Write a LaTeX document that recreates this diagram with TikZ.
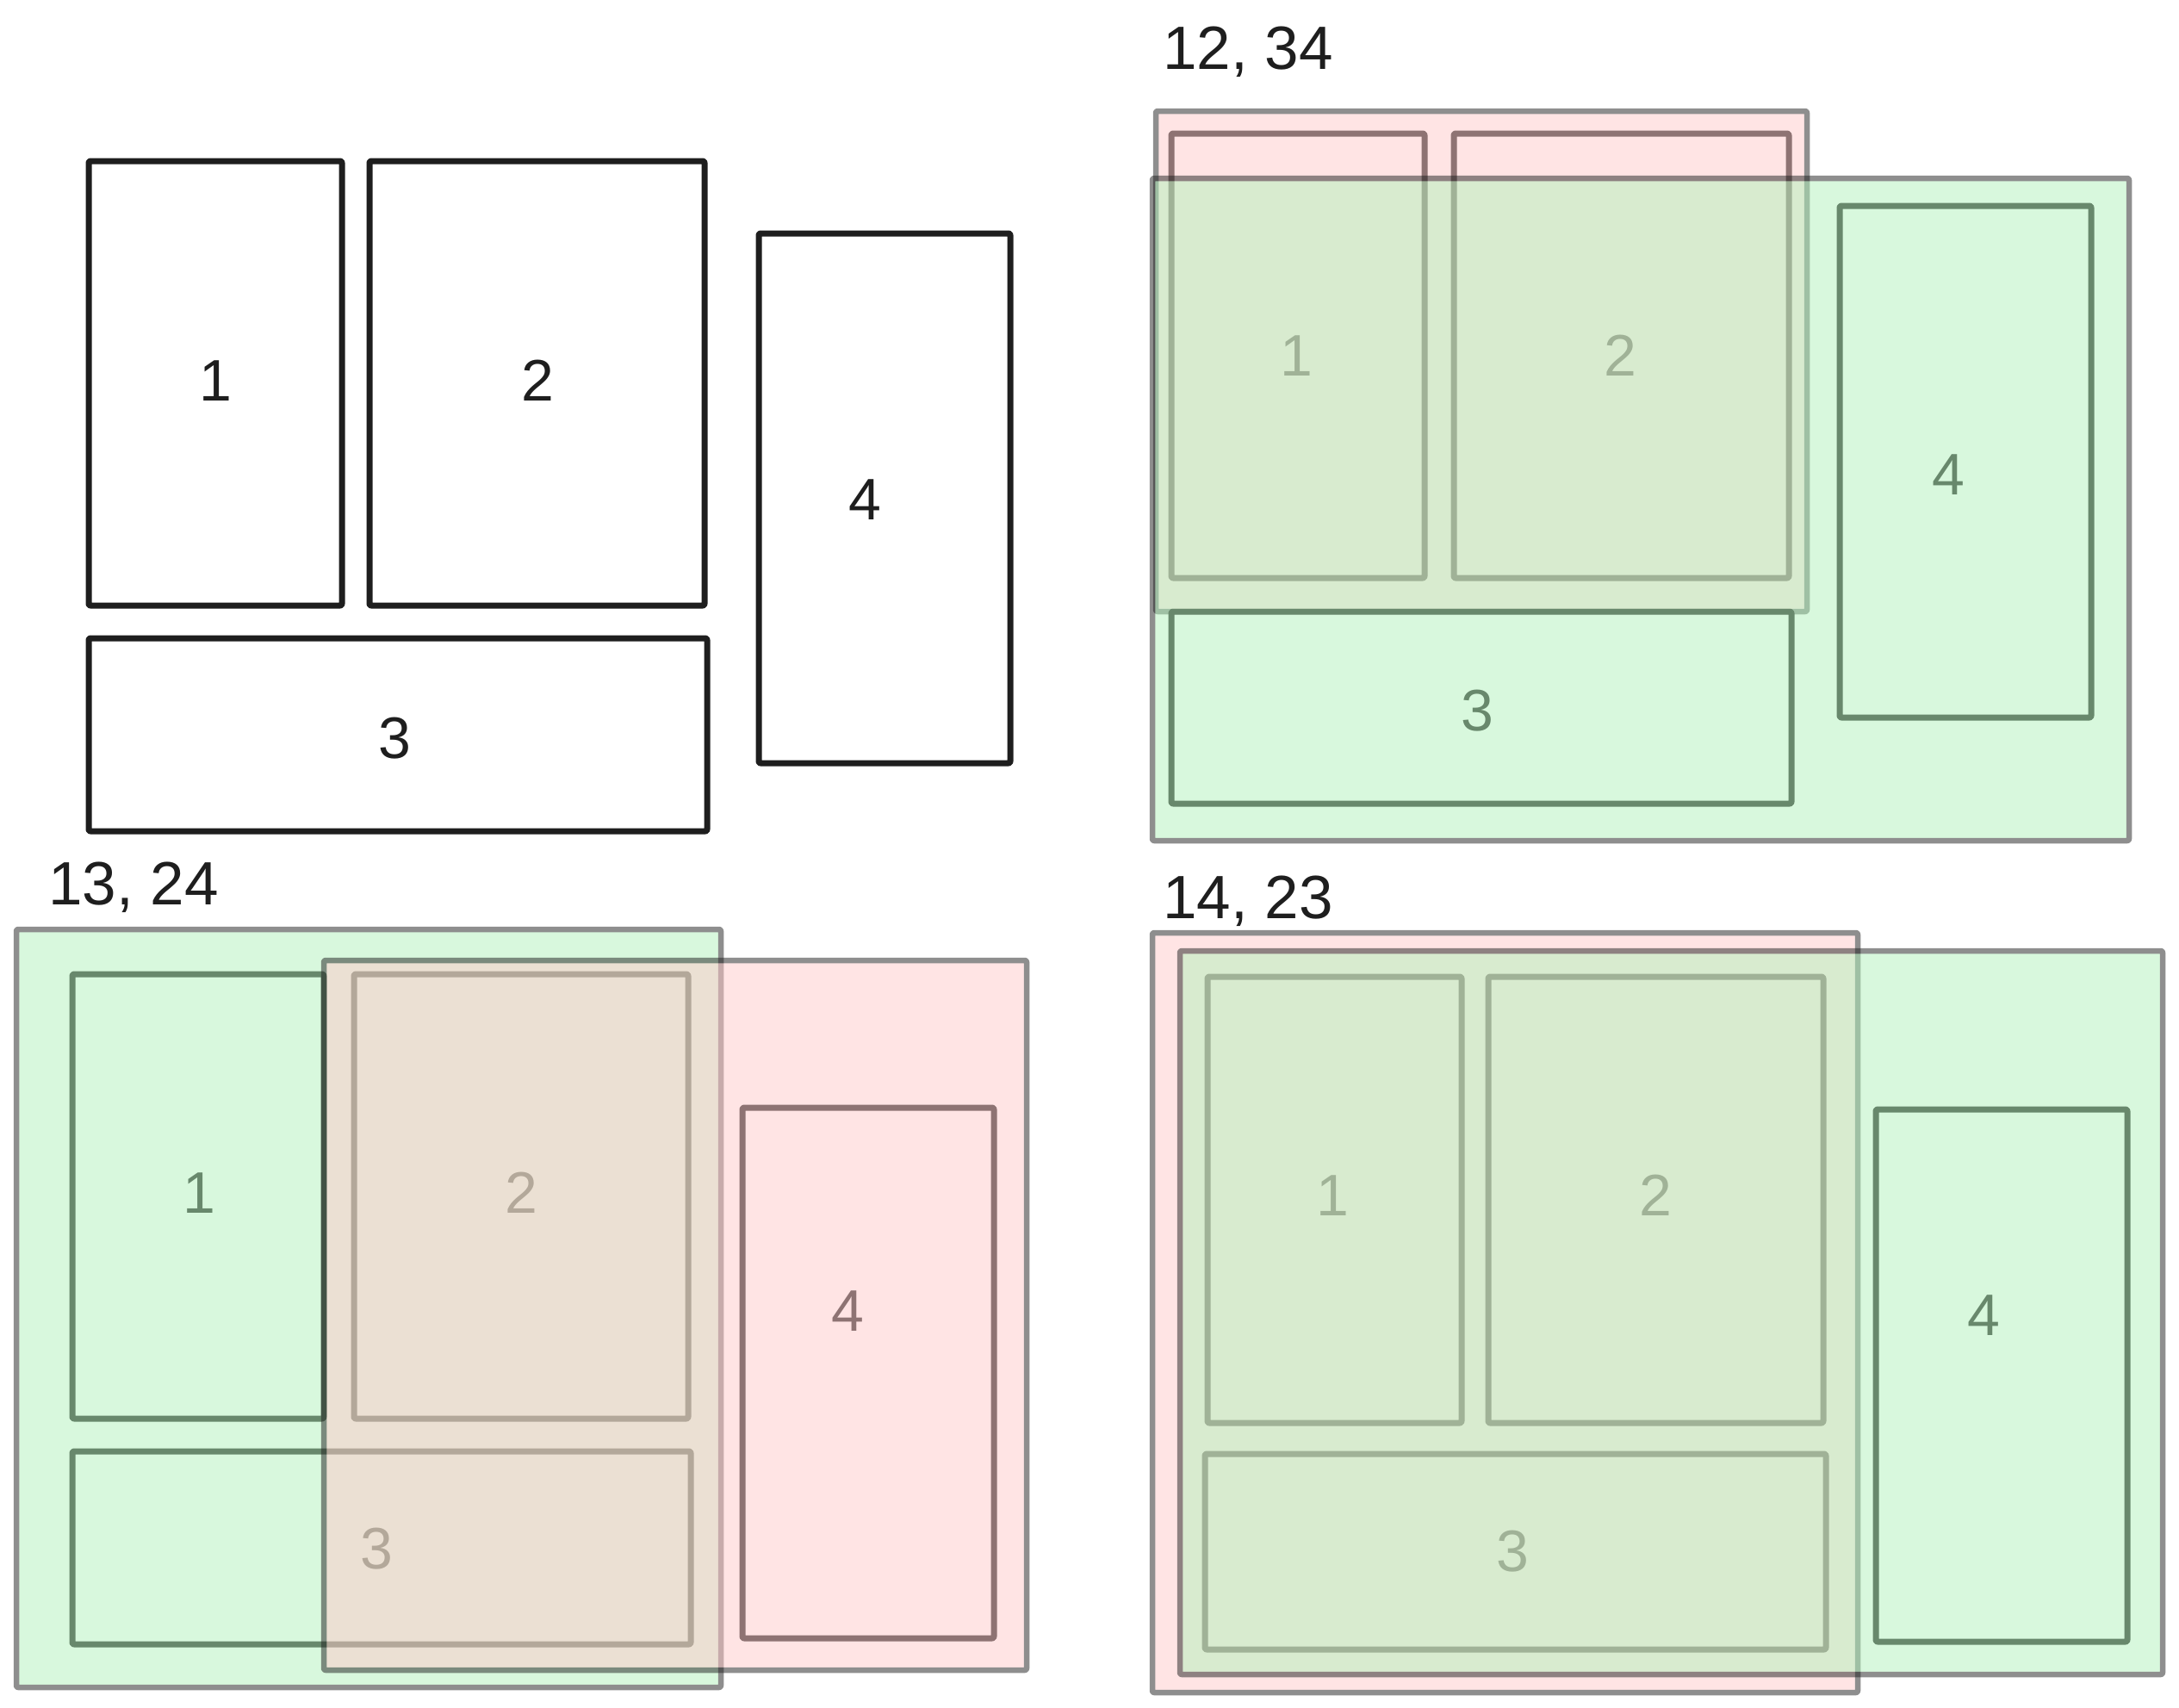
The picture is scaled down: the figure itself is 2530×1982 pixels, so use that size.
\documentclass[tikz,border=0pt]{standalone}
\usepackage{fontspec}
\setmainfont{Liberation Sans}
\usetikzlibrary{fit}
\definecolor{ink}{HTML}{1E1E1E}
\definecolor{redbg}{HTML}{FFC9C9}
\definecolor{greenbg}{HTML}{B2F2BB}
\tikzset{
  nbox/.style={draw=ink, line width=7pt, rounded corners=2pt, line join=round, inner sep=0pt, fit={#1}},
  lbl/.style={text=ink, font=\fontsize{68}{80}\selectfont, inner sep=0pt},
  ttl/.style={text=ink, font=\fontsize{71}{84}\selectfont, inner sep=0pt, anchor=west},
  grp/.style={line width=6.5pt, rounded corners=2pt, line join=round, inner sep=0pt, fit={#1}},
  redgrp/.style={grp={#1}, draw=ink, fill=redbg},
  greengrp/.style={grp={#1}, draw=ink, fill=greenbg},
}
\begin{document}
\begin{tikzpicture}[x=1pt,y=-1pt]
\useasboundingbox (0,0) rectangle (2530,1982);

% ---------- top-left: the four boxes ----------
\node[nbox={(103,187) (397,703)}] (a1) {};
\node[nbox={(429,187) (818,703)}] (a2) {};
\node[nbox={(103,741) (821,965)}] (a3) {};
\node[nbox={(881,271) (1173,886)}] (a4) {};
\node[lbl] (a1t) at (250,442) {1};
\node[lbl] (a2t) at (624,442) {2};
\node[lbl] (a3t) at (458,857) {3};
\node[lbl] (a4t) at (1004,580) {4};

% ---------- top-right: 12, 34 ----------
\node[ttl] (bt) at (1350,60) {12, 34};
\node[nbox={(1360,155) (1654,671)}] (b1) {};
\node[nbox={(1688,155) (2077,671)}] (b2) {};
\node[nbox={(1360,710) (2080,933)}] (b3) {};
\node[nbox={(2136,239) (2428,833)}] (b4) {};
\node[lbl] (b1t) at (1505,413) {1};
\node[lbl] (b2t) at (1881,413) {2};
\node[lbl] (b3t) at (1715,825) {3};
\node[lbl] (b4t) at (2262,551) {4};
\begin{scope}[transparency group, opacity=0.5]
\node[redgrp={(1342,129) (2098,710)}] (b12) {};
\end{scope}
\begin{scope}[transparency group, opacity=0.5]
\node[greengrp={(1338,207) (2472,976)}] (b34) {};
\end{scope}

% ---------- bottom-left: 13, 24 ----------
\node[ttl] (ct) at (56,1030) {13, 24};
\node[nbox={(84,1131) (376,1647)}] (c1) {};
\node[nbox={(411,1131) (799,1647)}] (c2) {};
\node[nbox={(84,1685) (802,1909)}] (c3) {};
\node[nbox={(862,1286) (1154,1902)}] (c4) {};
\node[lbl] (c1t) at (231,1385) {1};
\node[lbl] (c2t) at (605,1385) {2};
\node[lbl] (c3t) at (437,1798) {3};
\node[lbl] (c4t) at (984,1522) {4};
\begin{scope}[transparency group, opacity=0.5]
\node[greengrp={(19,1079) (837,1959)}] (c13) {};
\end{scope}
\begin{scope}[transparency group, opacity=0.5]
\node[redgrp={(376,1115) (1192,1939)}] (c24) {};
\end{scope}

% ---------- bottom-right: 14, 23 ----------
\node[ttl] (dt) at (1350,1046) {14, 23};
\node[nbox={(1402,1134) (1697,1652)}] (d1) {};
\node[nbox={(1728,1134) (2117,1652)}] (d2) {};
\node[nbox={(1399,1688) (2120,1915)}] (d3) {};
\node[nbox={(2178,1288) (2470,1906)}] (d4) {};
\node[lbl] (d1t) at (1547,1388) {1};
\node[lbl] (d2t) at (1922,1388) {2};
\node[lbl] (d3t) at (1756,1801) {3};
\node[lbl] (d4t) at (2303,1527) {4};
\begin{scope}[transparency group, opacity=0.5]
\node[redgrp={(1338,1083) (2157,1965)}] (d14) {};
\end{scope}
\begin{scope}[transparency group, opacity=0.5]
\node[greengrp={(1370,1104) (2511,1944)}] (d23) {};
\end{scope}
\end{tikzpicture}
\end{document}
